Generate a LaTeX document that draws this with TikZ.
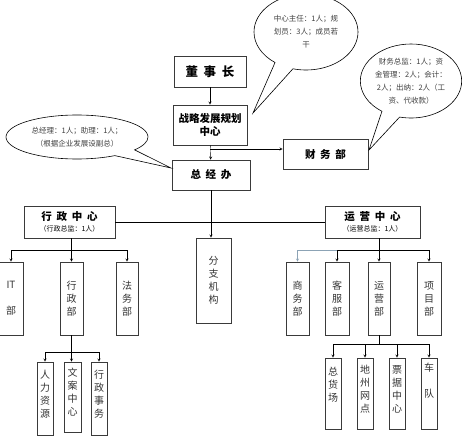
\documentclass[tikz,border=0pt]{standalone}
\usepackage{fontspec}
\setmainfont{Noto Sans CJK SC}
\usetikzlibrary{arrows.meta,positioning,shapes.callouts}
\definecolor{boxline}{HTML}{3A3A3A}
\definecolor{tipblue}{HTML}{8CA3B5}
\newcommand{\gap}{\hspace{0.45em}}

\begin{document}
\begin{tikzpicture}[
  x=1pt, y=-1pt,
  unit/.style={rectangle, draw=boxline, line width=0.7pt, inner sep=0pt,
    align=center, font=\fontsize{10.5}{13}\selectfont\bfseries},
  dept/.style={rectangle, draw=boxline, line width=0.7pt, inner sep=0pt,
    minimum width=23pt, minimum height=73pt, align=center,
    font=\fontsize{10}{13}\selectfont, text=black!80},
  leaf/.style={dept, minimum width=16pt, minimum height=71pt},
  note/.style={ellipse callout, draw=black, line width=0.6pt, fill=white,
    inner sep=0pt, align=center, callout pointer arc=22,
    font=\fontsize{7.5}{13}\selectfont, text=black!75},
  >=stealth
]
\useasboundingbox (0,0) rectangle (474,436);

% top of the chart
\node[unit, minimum width=72pt, minimum height=31pt,
  font=\fontsize{12.5}{14}\selectfont\bfseries] (board) at (210,71.5) {董\gap 事\gap 长};
\node[unit, minimum width=74pt, minimum height=40pt] (plan) at (210,125) {战略发展规划\\中心};
\node[unit, minimum width=78pt, minimum height=30pt] (gm) at (211,175) {总\gap 经\gap 办};
\node[unit, minimum width=85pt, minimum height=30pt] (fin) at (325.5,154) {财\gap 务\gap 部};

% centres
\node[unit, minimum width=91pt, minimum height=32pt] (admin) at (69.5,222)
  {行\gap 政\gap 中\gap 心\\[-2pt]{\mdseries\fontsize{7}{9}\selectfont （行政总监：1人）}};
\node[unit, minimum width=95pt, minimum height=32pt] (ops) at (372.5,222)
  {运\gap 营\gap 中\gap 心\\[-2pt]{\mdseries\fontsize{7}{9}\selectfont （运营总监：1人）}};
\node[dept, minimum width=35pt, minimum height=85pt] (branch) at (213.5,280.5) {分\\支\\机\\构};

% departments
\node[dept, minimum width=24pt] (it) at (11,298.5) {IT\\[13pt]部};
\node[dept] (adm) at (71.5,298.5) {行\\政\\部};
\node[dept, minimum width=22pt] (law) at (127,298.5) {法\\务\\部};
\node[dept] (biz) at (297.5,298.5) {商\\务\\部};
\node[dept, minimum width=24pt] (cs) at (337,298.5) {客\\服\\部};
\node[dept, minimum width=22pt] (opd) at (379,298.5) {运\\营\\部};
\node[dept, minimum width=24pt] (proj) at (429,298.5) {项\\目\\部};

% sections
\node[leaf, minimum height=73pt] (hr) at (45,398.5) {人\\力\\资\\源\\[-3pt]};
\node[leaf, minimum width=17pt, minimum height=70pt] (doc) at (72.5,397) {文\\案\\中\\心\\[-3pt]};
\node[leaf, minimum height=73pt] (aff) at (99,398.5) {行\\政\\事\\务\\[-3pt]};
\node[leaf] (yard) at (333,393.5) {总\\货\\场\\[6pt]};
\node[leaf] (net) at (365,393.5) {地\\州\\网\\点\\[-3pt]};
\node[leaf] (bill) at (397,393.5) {票\\据\\中\\心\\[-3pt]};
\node[leaf] (fleet) at (429,393.5) {车\\[13pt]队\\[13pt]};

% notes
\node[note, minimum width=104pt, minimum height=76pt,
  callout absolute pointer={(253,113)}] (noteplan) at (306,32)
  {中心主任：1人；规\\划员：3人；成员若\\干};
\node[note, minimum width=142pt, minimum height=44pt,
  callout absolute pointer={(171,168)}] (notegm) at (77,137)
  {总经理：1人；助理：1人；\\（根据企业发展设副总）};
\node[note, minimum width=94pt, minimum height=74pt,
  callout absolute pointer={(369,150)}] (notefin) at (411,81)
  {财务总监：1人；资\\金管理：2人；会计：\\2人；出纳：2人（工\\资、代收款）};

% connectors
\coordinate (finbar) at (210,149);
\coordinate (bar) at (0,250);
\coordinate (admbar) at (0,352);
\coordinate (opdbar) at (0,344);

\draw[->] (board) -- (plan);
\draw[->] (plan) -- (gm);
\draw[->] (finbar) -- (finbar -| fin.west);
\draw[->] (gm) -- (gm.south |- branch.north);
\draw (admin) -- (ops);

\draw[->] (admin.south -| adm) -- (adm.north);
\draw (bar -| it) -- (bar -| law);
\foreach \n in {it,law}
  \draw[->] (bar -| \n) -- (\n.north);

\draw[->] (ops.south -| opd) -- (opd.north);
\draw (bar -| cs) -- (bar -| proj);
\foreach \n in {cs,proj}
  \draw[->] (bar -| \n) -- (\n.north);
\draw[->, tipblue] (bar -| cs) -- (bar -| biz) -- (biz.north);

\draw[->] (adm.south) -- (adm.south |- doc.north);
\draw (admbar -| hr) -- (admbar -| aff);
\foreach \n in {hr,aff}
  \draw[->] (admbar -| \n) -- (\n.north);

\draw (opd.south) -- (opd.south |- opdbar);
\draw (opdbar -| yard) -- (opdbar -| fleet);
\foreach \n in {yard,net,bill,fleet}
  \draw[->] (opdbar -| \n) -- (\n.north);
\end{tikzpicture}
\end{document}
